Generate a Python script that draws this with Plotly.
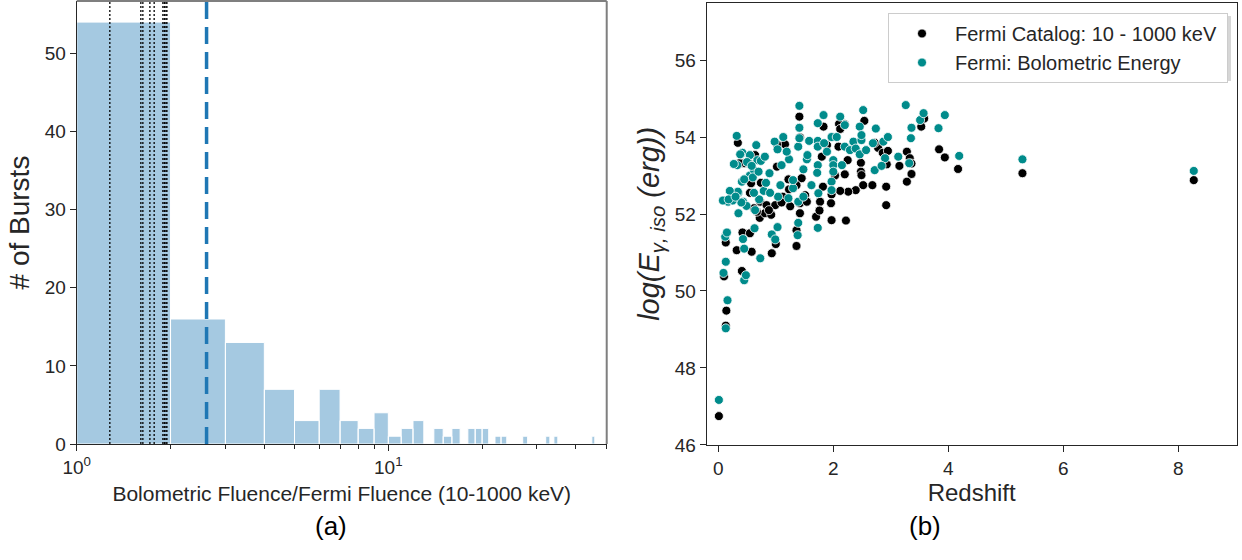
import plotly.graph_objects as go

# ---------------- Panel (a): histogram data ----------------
bin_lo = list(range(1, 46))          # bins [k, k+1)
bin_counts = [54, 16, 13, 7, 3, 7, 3, 2, 4, 1, 2, 3,
              0, 2, 1, 2, 0, 2, 2, 2, 0, 1, 1, 0,
              0, 0, 1, 0, 0, 0, 0, 1, 0, 1,
              0, 0, 0, 0, 0, 0, 0, 0, 0, 0,
              1]
dotted_lines = [1.277, 1.606, 1.63, 1.717, 1.772, 1.89, 1.91, 1.933, 1.947]
dashed_line = 2.61

# ---------------- Panel (b): scatter data ----------------
cat_z = [0.01, 0.13, 0.14, 0.10, 0.13, 0.41, 0.32, 0.42, 0.58, 0.55, 0.93, 1.00, 1.36, 1.36, 1.70,
         0.72, 0.81, 0.92, 0.67,
         1.41, 1.42, 0.34, 1.83, 1.16, 1.02, 0.64, 0.45, 0.37, 0.53, 1.02, 1.89, 1.80, 1.45, 0.57,
         0.74, 0.55, 0.73, 0.84, 0.99, 1.12, 1.22, 1.23, 1.36, 1.51, 1.42, 1.54, 1.42, 1.77, 1.76,
         1.82, 1.97, 1.96, 1.97,
         2.54, 2.20, 2.10, 2.12, 3.58, 3.53, 2.09, 2.78, 2.72, 2.48, 2.48, 2.25, 2.86, 2.95, 2.93,
         3.28, 3.33, 3.36, 3.84, 3.94, 4.17, 2.03, 2.49, 2.20, 3.15, 3.36, 3.28, 2.68, 2.52, 2.92,
         2.39, 2.26, 2.12, 2.92, 2.22, 5.29, 8.27,
         0.62, 0.88, 1.10, 1.25]
cat_e = [46.75, 49.10, 49.49, 50.38, 51.26, 50.52, 51.06, 51.52, 51.02, 51.50, 50.98, 51.22, 51.17, 51.58, 51.93,
         51.90, 52.02, 51.98, 52.06,
         54.53, 53.99, 53.85, 54.27, 53.81, 53.81, 53.53, 53.32, 53.32, 53.32, 53.23, 53.79, 53.49, 52.93, 52.80,
         52.81, 52.55, 52.32, 52.23, 52.23, 52.45, 52.90, 52.64, 52.75, 52.49, 52.28, 52.32, 52.02, 52.32, 52.09,
         52.71, 52.51, 52.28, 51.84,
         54.42, 54.33, 54.34, 54.21, 54.48, 54.27, 53.75, 53.72, 53.85, 53.33, 53.10, 53.40, 53.59, 53.64, 53.29,
         53.62, 53.45, 53.31, 53.68, 53.47, 53.17, 53.00, 53.01, 53.03, 53.25, 53.04, 52.84, 52.75, 52.75, 52.71,
         52.62, 52.58, 52.60, 52.23, 51.83, 53.06, 52.88,
         52.15, 52.10, 52.30, 52.20]

bol_z = [0.01, 0.13, 0.16, 0.09, 0.13, 0.45, 0.48, 0.12, 0.15, 0.45, 0.43, 0.63, 0.73, 0.93, 0.99, 1.03, 1.38,
         1.39, 1.73,
         0.32, 0.33, 0.42, 0.55, 0.66, 0.55, 0.62, 0.68, 0.74, 0.81, 0.35, 0.43, 0.49, 0.64, 0.71, 0.79,
         0.83, 0.89, 0.98, 1.13, 1.03, 1.10, 1.23, 1.19, 1.04, 1.22, 1.30, 1.30, 1.39, 1.41, 1.41, 1.41,
         1.39, 1.48, 1.48, 1.54, 1.55, 1.58, 1.62, 1.73, 1.73, 1.73, 1.73, 1.72, 1.74, 1.83, 1.84, 1.89,
         1.97, 2.00, 2.00, 2.00, 1.97, 1.97, 2.06, 2.12, 2.20, 2.15, 2.20, 2.29, 2.35, 2.39, 2.49, 2.46,
         2.52, 2.49, 2.46, 2.57, 2.74, 2.72, 2.69, 2.87, 2.90, 2.84, 2.95, 3.13, 3.26, 3.32, 3.35, 3.36,
         3.51, 3.57, 3.83, 3.94, 4.19, 5.29, 8.27,
         0.34, 0.40, 0.17, 0.35, 0.08, 0.20, 0.41, 0.25, 0.27, 0.18,
         0.38, 0.50, 0.60, 0.45, 0.58, 0.30, 0.70, 0.62, 0.90, 1.08]
bol_e = [47.17, 49.03, 49.76, 50.47, 50.76, 50.28, 50.41, 51.41, 51.52, 51.10, 51.35, 51.63, 50.85, 51.47, 51.34, 51.66, 51.45,
         51.77, 51.64,
         54.03, 53.27, 53.59, 53.53, 53.79, 53.00, 53.14, 53.40, 53.38, 53.49, 52.55, 52.32, 52.21, 52.10, 52.38, 52.60,
         52.81, 53.06, 53.88, 54.00, 53.68, 53.27, 53.42, 53.62, 52.45, 52.41, 52.67, 52.88, 53.75, 54.81, 54.24, 53.97,
         52.32, 53.16, 52.45, 53.42, 53.53, 53.90, 52.75, 54.36, 53.90, 53.75, 53.27, 53.07, 52.54, 54.57, 53.84, 53.62,
         54.00, 53.40, 53.27, 53.10, 52.84, 52.62, 54.00, 54.53, 54.31, 53.27, 53.75, 53.66, 53.88, 53.70, 53.92, 54.27,
         54.70, 54.05, 53.55, 53.66, 54.22, 53.14, 53.84, 53.88, 53.45, 53.25, 54.00, 53.49, 54.83, 53.32, 53.97, 54.24,
         54.44, 54.62, 54.23, 54.57, 53.51, 53.42, 53.12,
         52.58, 52.30, 52.32, 52.02, 52.35, 52.60, 52.84, 52.35, 53.30, 52.38,
         53.55, 53.35, 52.95, 52.90, 53.25, 52.45, 53.10, 52.55, 52.55, 52.75]

# ---------------- styling ----------------
FONT = "Liberation Sans, Arial, sans-serif"
INK = "#262626"
BAR_FILL = "rgb(165,201,225)"
TEAL = "#008b8b"

fig = go.Figure()

# histogram bars as filled polygons built from bin edges and counts
hx, hy = [], []
for lo, c in zip(bin_lo, bin_counts):
    if c <= 0:
        continue
    hi = lo + 1
    hx += [lo, lo, hi, hi, lo, None]
    hy += [0, c, c, 0, 0, None]
fig.add_trace(go.Scatter(x=hx, y=hy, mode="lines", fill="toself", fillcolor=BAR_FILL,
                         line=dict(color="white", width=1), xaxis="x", yaxis="y",
                         showlegend=False, hoverinfo="skip"))

# scatter series
fig.add_trace(go.Scatter(x=cat_z, y=cat_e, mode="markers", name="Fermi Catalog: 10 - 1000 keV\u00a0",
                         marker=dict(color="black", size=9, line=dict(color="white", width=0.8)),
                         xaxis="x2", yaxis="y2"))
fig.add_trace(go.Scatter(x=bol_z, y=bol_e, mode="markers", name="Fermi: Bolometric Energy",
                         marker=dict(color=TEAL, size=9, line=dict(color="white", width=0.8)),
                         xaxis="x2", yaxis="y2"))

# vertical reference lines in panel (a)
for v in dotted_lines:
    fig.add_shape(type="line", xref="x", yref="y domain", x0=v, x1=v, y0=0, y1=1,
                  line=dict(color="black", width=1.3, dash="2px,2px"))
fig.add_shape(type="line", xref="x", yref="y domain", x0=dashed_line, x1=dashed_line, y0=0, y1=1,
              line=dict(color="#1f77b4", width=3.5, dash="17px,8px"))

# grey top/right frame of panel (a)
fig.add_shape(type="line", xref="x domain", yref="y domain", x0=0, x1=1, y0=1, y1=1,
              line=dict(color="#7f7f7f", width=2))
fig.add_shape(type="line", xref="x domain", yref="y domain", x0=1, x1=1, y0=0, y1=1,
              line=dict(color="#7f7f7f", width=2))

# soft shadow behind legend box
fig.add_shape(type="rect", xref="paper", yref="paper",
              x0=891 / 1242, x1=1231 / 1242, y0=1 - 81 / 560, y1=1 - 16 / 560,
              line=dict(width=0), fillcolor="rgba(0,0,0,0.16)", layer="above")

axis_common = dict(showgrid=False, zeroline=False, showline=True, linecolor=INK, linewidth=1.25,
                   ticks="outside", ticklen=6, tickwidth=1.25, tickcolor=INK, automargin=False,
                   tickfont=dict(family=FONT, size=19, color=INK))

fig.update_layout(
    width=1242, height=560,
    margin=dict(l=0, r=0, t=0, b=0),
    paper_bgcolor="white", plot_bgcolor="white",
    font=dict(family=FONT, color=INK),
    xaxis=dict(type="log", domain=[0.0618, 0.4885], anchor="y", range=[0, 1.701],
               tickvals=[1, 10], ticktext=["10<sup>0</sup>", "10<sup>1</sup>"],
               minor=dict(tickvals=[2, 3, 4, 5, 6, 7, 8, 9, 20, 30, 40, 50], ticks="outside",
                          ticklen=3.5, tickwidth=1, tickcolor=INK),
               title=dict(text="Bolometric Fluence/Fermi Fluence (10-1000 keV)",
                          font=dict(family=FONT, size=21, color=INK), standoff=9),
               **axis_common),
    yaxis=dict(domain=[0.2071, 0.9982], anchor="x", range=[0, 56.7],
               tickvals=[0, 10, 20, 30, 40, 50],
               title=dict(text="# of Bursts", font=dict(family=FONT, size=28, color=INK), standoff=6),
               **axis_common),
    xaxis2=dict(domain=[0.569, 0.9957], anchor="y2", range=[-0.202, 9.016],
                tickvals=[0, 2, 4, 6, 8], mirror=True,
                title=dict(text="Redshift", font=dict(family=FONT, size=24, color=INK), standoff=2),
                **axis_common),
    yaxis2=dict(domain=[0.2054, 0.9952], anchor="x2", range=[46, 57.49],
                tickvals=[46, 48, 50, 52, 54, 56], mirror=True,
                title=dict(text="<i>log(E<sub>γ, iso</sub> (erg))</i>",
                           font=dict(family=FONT, size=29, color=INK), standoff=6),
                **axis_common),
    legend=dict(x=888 / 1242, y=1 - 13 / 560, xanchor="left", yanchor="top",
                bgcolor="white", bordercolor="#cccccc", borderwidth=1,
                font=dict(family=FONT, size=20, color=INK), itemwidth=56),
    annotations=[
        dict(text="(a)", xref="paper", yref="paper", x=313 / 1242, y=1 - 543 / 560,
             showarrow=False, font=dict(family=FONT, size=26, color="black")),
        dict(text="(b)", xref="paper", yref="paper", x=943 / 1242, y=1 - 543 / 560,
             showarrow=False, font=dict(family=FONT, size=26, color="black")),
    ],
)

fig.write_html("out.html", config={"displayModeBar": False},
               post_script="document.body.style.margin='0px';")
